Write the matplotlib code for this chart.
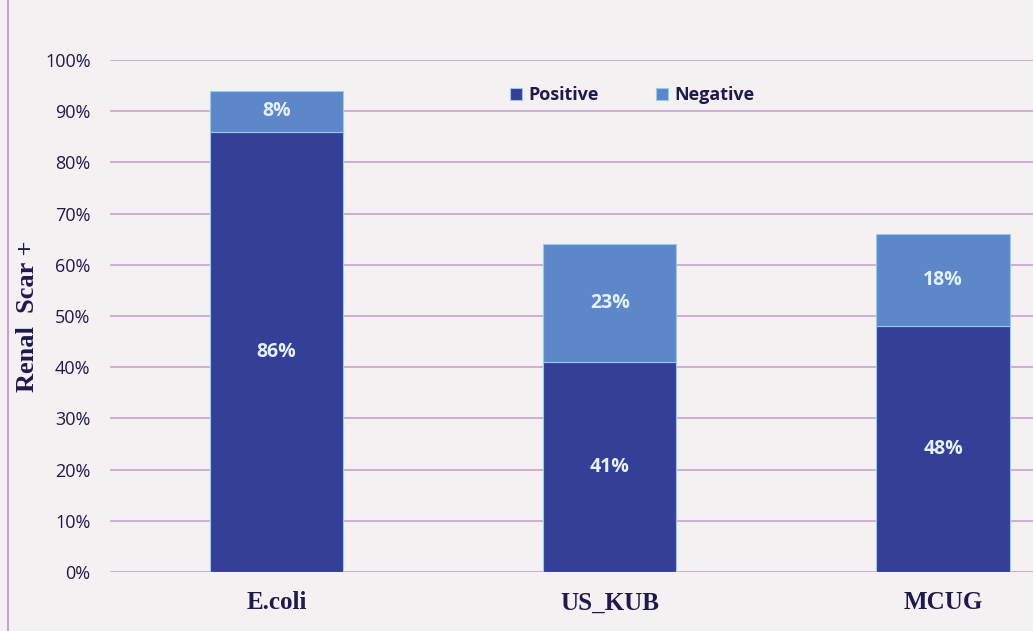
import matplotlib.pyplot as plt
from matplotlib.lines import Line2D
import numpy as np

categories = ['E.coli', 'US_KUB', 'MCUG']
positive = [86, 41, 48]
negative = [8, 23, 18]
yticks = [0, 10, 20, 30, 40, 50, 60, 70, 80, 90, 100]

bg = '#F5F0F1'
c_pos = '#343F97'
c_neg = '#5D87C8'
navy = '#1E1A4E'
grid_c = '#C9A2D2'

fig = plt.figure(figsize=(10.33, 6.31), dpi=100, facecolor=bg)
ax = fig.add_axes([0.1065, 0.0935, 0.8935, 0.8115])
ax.set_facecolor(bg)

x = np.arange(len(categories))
ax.bar(x, positive, 0.4, color=c_pos, edgecolor='#8FD0E8', linewidth=0.8,
       label='Positive', zorder=3)
ax.bar(x, negative, 0.4, bottom=positive, color=c_neg, edgecolor='#8FD0E8',
       linewidth=0.8, label='Negative', zorder=3)

for i in range(len(categories)):
    ax.text(x[i], positive[i] / 2, f'{positive[i]}%', ha='center', va='center',
            color='#E4F2F7', fontsize=14, fontweight='bold', family='Open Sans', zorder=4)
    ax.text(x[i], positive[i] + negative[i] / 2, f'{negative[i]}%', ha='center',
            va='center', color='#E4F2F7', fontsize=14, fontweight='bold',
            family='Open Sans', zorder=4)

ax.set_xlim(-0.5, 2.27)
ax.set_ylim(0, 100)
ax.set_yticks(yticks)
ax.set_yticklabels([f'{t}%' for t in yticks], family='Open Sans', fontsize=13,
                   color=navy)
ax.set_xticks(x)
ax.set_xticklabels(categories, family='Liberation Serif', fontweight='bold',
                   fontsize=18, color=navy)
ax.tick_params(axis='y', length=0, pad=14)
ax.tick_params(axis='x', length=0, pad=14)
ax.yaxis.grid(True, color=grid_c, linewidth=1.2, zorder=0)
for s in ax.spines.values():
    s.set_visible(False)

ax.set_ylabel('Renal  Scar +', family='Liberation Serif', fontweight='bold',
              fontsize=19, color=navy, labelpad=4)

leg = ax.legend(loc='upper center', bbox_to_anchor=(0.566, 0.98), ncol=2, frameon=False,
                prop={'family': 'Open Sans', 'weight': 'bold', 'size': 13},
                handlelength=0.65, handleheight=0.65, columnspacing=3.2, handletextpad=0.35)
for t in leg.get_texts():
    t.set_color(navy)

fig.add_artist(Line2D([0.008, 0.008], [0.0, 1.0], color='#C9A2D2', linewidth=1.5))

fig.savefig('out.png', dpi=100, facecolor=bg)
